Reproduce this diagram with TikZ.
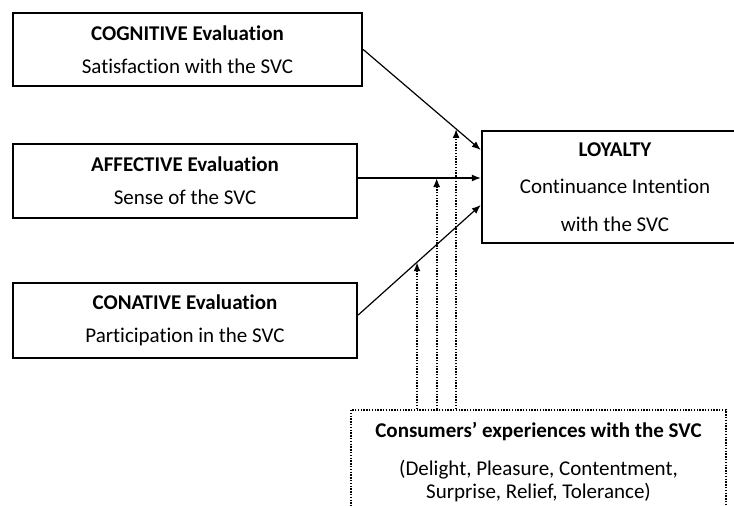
\documentclass[tikz,border=0pt]{standalone}
\usepackage{fontspec}
\setmainfont{Carlito}[Ligatures=NoCommon]
\usetikzlibrary{arrows.meta}
\tikzset{
  evalbox/.style={draw, line width=2.4pt, rectangle, inner sep=0pt, align=center,
    font=\fontsize{21}{33}\selectfont},
  dotbox/.style={draw, line width=1.8pt, dash pattern=on 1.4pt off 1.4pt, rectangle, inner sep=0pt, align=center,
    font=\fontsize{21}{23}\selectfont},
  arr/.style={line width=1.2pt, -{Latex[length=9pt,width=7pt]}},
  dotarr/.style={line width=1.8pt, dash pattern=on 1.4pt off 1.4pt, -{Latex[length=9pt,width=7pt]}}
}
\begin{document}
\begin{tikzpicture}[x=1pt,y=-1pt]
\useasboundingbox (0,0) rectangle (734,506);
\clip (0,0) rectangle (734,506);
\fill[white] (0,0) rectangle (734,506);

\node[evalbox, minimum width=349pt, minimum height=73pt] (cog) at (187.5,49.5)
  {\textbf{COGNITIVE Evaluation}\\Satisfaction with the SVC};
\node[evalbox, minimum width=344pt, minimum height=74pt] (aff) at (185,181)
  {\textbf{AFFECTIVE Evaluation}\\Sense of the SVC};
\node[evalbox, minimum width=344pt, minimum height=75pt] (con) at (185,320.5)
  {\textbf{CONATIVE Evaluation}\\Participation in the SVC};
\node[evalbox, font=\fontsize{21}{37.5}\selectfont, minimum width=266pt, minimum height=112pt] (loy) at (615,187)
  {\textbf{LOYALTY}\\Continuance Intention\\with the SVC};
\node[dotbox, anchor=north, minimum width=375pt] (cons) at (538.5,409)
  {\rule{0pt}{28pt}\textbf{Consumers’ experiences with the SVC}\\[15pt](Delight, Pleasure, Contentment,\\Surprise, Relief, Tolerance)\rule[-40pt]{0pt}{40pt}};

\draw[arr] (cog.east) -- ([yshift=37pt]loy.west) coordinate[pos=0.79] (m1);
\draw[arr] ([yshift=3pt]aff.east) -- ([yshift=9pt]loy.west) coordinate[pos=0.64] (m2);
\draw[arr] ([yshift=5.5pt]con.east) -- ([yshift=-18pt]loy.west) coordinate[pos=0.48] (m3);

\draw[dotarr] (cons.north -| m1) -- (m1);
\draw[dotarr] (cons.north -| m2) -- (m2);
\draw[dotarr] (cons.north -| m3) -- (m3);
\end{tikzpicture}
\end{document}
